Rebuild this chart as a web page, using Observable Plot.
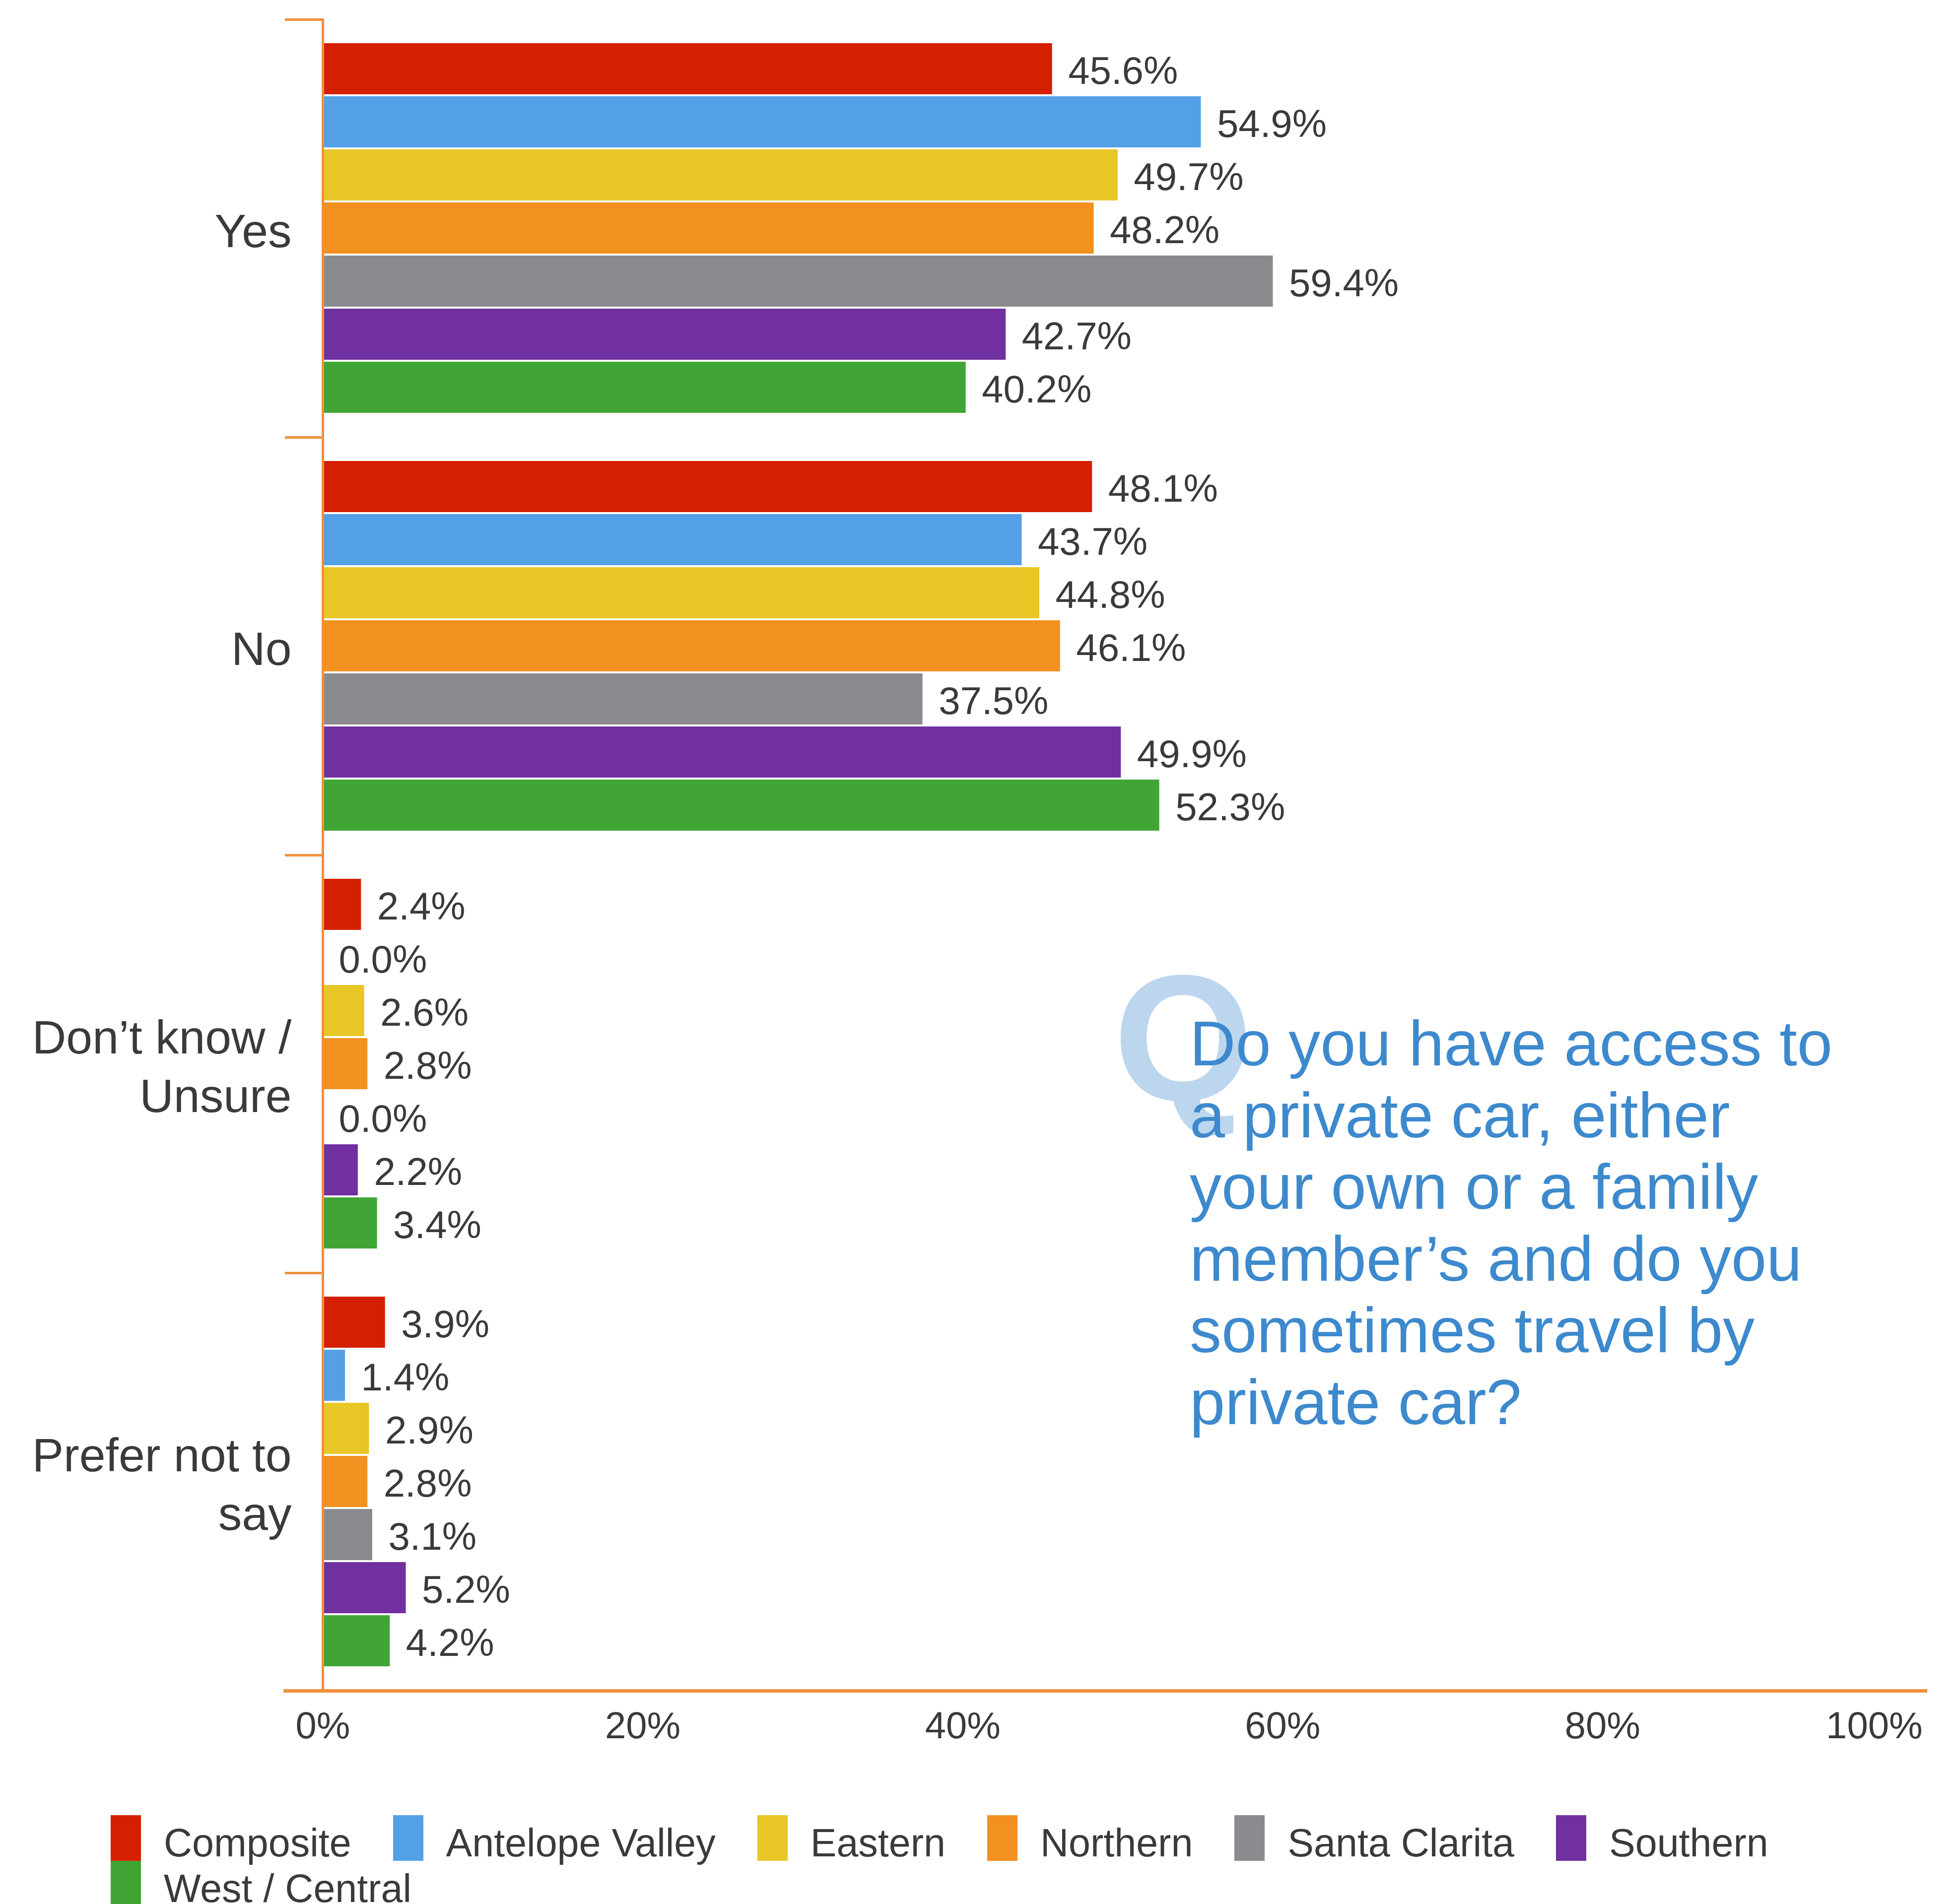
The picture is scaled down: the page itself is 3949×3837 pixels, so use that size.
<!DOCTYPE html>
<html>
<head>
<meta charset="utf-8">
<script src="https://cdn.jsdelivr.net/npm/d3@7"></script>
<script src="https://cdn.jsdelivr.net/npm/@observablehq/plot@0.6"></script>
<style>
  html, body { margin: 0; padding: 0; background: #ffffff; }
  #wrap { position: relative; width: 3949px; height: 3837px; overflow: hidden; font-family: "Liberation Sans", Arial, sans-serif; }
  #chart { position: absolute; left: 0; top: 0; }
  #legend { position: absolute; left: 223px; top: 3668px; width: 3726px; }
  #legend span { margin-right: 84px; }
  #legend span > svg { margin-right: 46px; position: relative; top: -10px; }
  #qmark { position: absolute; left: 2243px; top: 1911px; font-size: 362px; line-height: 362px; font-weight: bold; color: #bcd6ee; }
  #question { position: absolute; left: 2397px; top: 2031px; font-size: 128px; line-height: 144.5px; color: #3d89cd; white-space: nowrap; }
</style>
</head>
<body>
<div id="wrap">
  <div id="chart"></div>
  <div id="qmark">Q</div>
  <div id="question"></div>
  <div id="legend"></div>
</div>
<script>
// ---- data ----
const categories = ["Yes", "No", "Don’t know / Unsure", "Prefer not to say"];
const categoryLabels = ["Yes", "No", "Don’t know /\nUnsure", "Prefer not to\nsay"];
const series = ["Composite", "Antelope Valley", "Eastern", "Northern", "Santa Clarita", "Southern", "West / Central"];
const seriesColors = ["#d42000", "#54a0e6", "#e8c626", "#f29020", "#8a8b8f", "#7030a0", "#40a535"];
const yesValues = [45.6, 54.9, 49.7, 48.2, 59.4, 42.7, 40.2];
const noValues = [48.1, 43.7, 44.8, 46.1, 37.5, 49.9, 52.3];
const dontKnowValues = [2.4, 0.0, 2.6, 2.8, 0.0, 2.2, 3.4];
const preferNotValues = [3.9, 1.4, 2.9, 2.8, 3.1, 5.2, 4.2];
const xTicks = [0, 20, 40, 60, 80, 100];
const questionLines = ["Do you have access to", "a private car, either", "your own or a family", "member’s and do you", "sometimes travel by", "private car?"];

// ---- table ----
const valuesByCategory = [yesValues, noValues, dontKnowValues, preferNotValues];
const data = categories.flatMap((c, i) => series.map((s, j) => ({category: c, series: s, value: valuesByCategory[i][j]})));
const labelOf = new Map(categories.map((c, i) => [c, categoryLabels[i]]));

const axisColor = "#f0913c";
const textColor = "#3a3a3a";
const W = 3949, H = 3560, ML = 650, MR = 76, MT = 38, MB = 153;
const plotW = W - ML - MR;

const plot = Plot.plot({
  width: W,
  height: H,
  marginLeft: ML,
  marginRight: MR,
  marginTop: MT,
  marginBottom: MB,
  style: {fontFamily: "'Liberation Sans', Arial, sans-serif", background: "white", overflow: "visible"},
  x: {domain: [0, 100]},
  y: {domain: series, paddingInner: 0.035, paddingOuter: 0.42, axis: null},
  fy: {domain: categories, padding: 0},
  color: {domain: series, range: seriesColors},
  marks: [
    Plot.barX(data, {x: "value", y: "series", fy: "category", fill: "series"}),
    Plot.text(data, {x: "value", y: "series", fy: "category", text: d => d3.format(".1f")(d.value) + "%",
      dx: 32, dy: 5, textAnchor: "start", fontSize: 78, fill: textColor}),
    Plot.frame({anchor: "left", stroke: axisColor, strokeWidth: 5}),
    Plot.frame({anchor: "top", stroke: axisColor, strokeWidth: 5, insetLeft: -74, insetRight: plotW}),
    Plot.frame({anchor: "bottom", facetAnchor: "bottom", stroke: axisColor, strokeWidth: 7, insetLeft: -76, insetRight: -6}),
    Plot.axisFy({anchor: "left", tickSize: 0, tickPadding: 63, fontSize: 95, lineHeight: 1.24,
      tickFormat: d => labelOf.get(d), fill: textColor, label: null}),
    Plot.axisX(xTicks.filter(t => t < 100), {tickSize: 0, tickPadding: 42, fontSize: 76, fill: textColor,
      tickFormat: d => d + "%", label: null}),
    Plot.axisX(xTicks.filter(t => t === 100), {tickSize: 0, tickPadding: 42, fontSize: 76, fill: textColor,
      tickFormat: d => d + "%", textAnchor: "end", label: null})
  ]
});
document.getElementById("chart").appendChild(plot);

const legend = plot.legend("color", {
  swatchWidth: 61,
  swatchHeight: 92,
  style: {fontSize: "79px", lineHeight: "88px", fontFamily: "'Liberation Sans', Arial, sans-serif", color: textColor, marginLeft: "0px"}
});
document.getElementById("legend").appendChild(legend);

document.getElementById("question").innerHTML = questionLines.join("<br>");
</script>
</body>
</html>
